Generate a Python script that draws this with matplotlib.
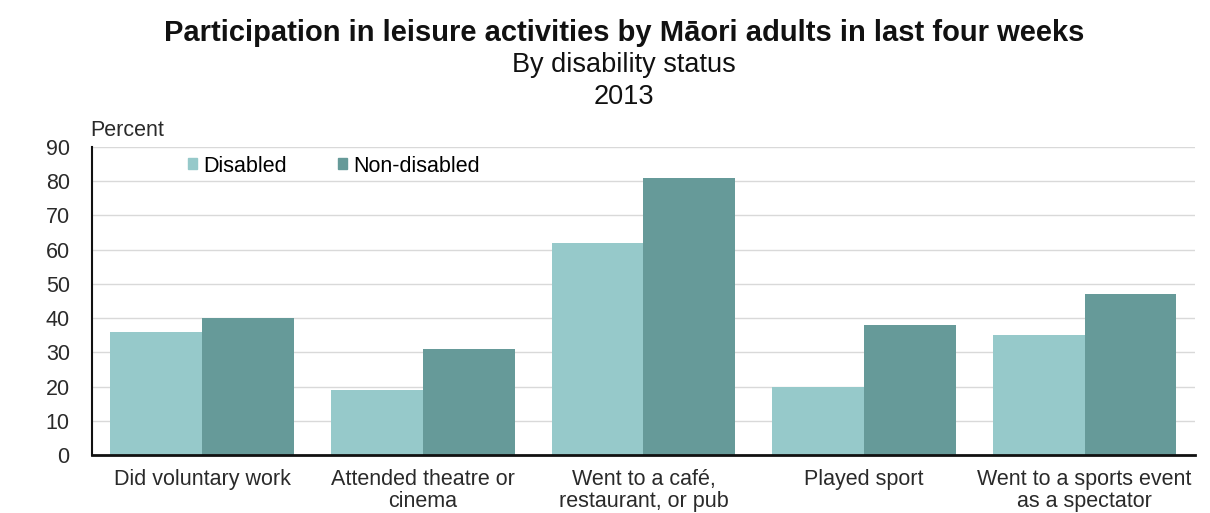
import numpy as np
import matplotlib
matplotlib.use("Agg")
import matplotlib.pyplot as plt
from matplotlib.patches import Patch

plt.rcParams['font.family'] = ['Liberation Sans', 'DejaVu Sans']

# data
categories = ["Did voluntary work", "Attended theatre or\ncinema",
              "Went to a café,\nrestaurant, or pub", "Played sport",
              "Went to a sports event\nas a spectator"]
disabled = [36, 19, 62, 20, 35]
non_disabled = [40, 31, 81, 38, 47]
yticks = list(range(0, 100, 10))

light = "#96c9ca"
dark = "#669a99"
W, H = 1210, 513

fig = plt.figure(figsize=(12.1, 5.13), dpi=100)
ax = fig.add_axes([0.076, 0.113, 0.9115, 0.6005])

x = np.arange(len(categories))
w = 0.416
ax.bar(x - w / 2, disabled, w, color=light, label="Disabled", zorder=3)
ax.bar(x + w / 2, non_disabled, w, color=dark, label="Non-disabled", zorder=3)

ax.set_xlim(-0.5, len(categories) - 0.5)
ax.set_ylim(0, 90)
ax.set_yticks(yticks)
ax.set_xticks(x)
ax.set_xticklabels(categories, fontsize=15.5, color="#2a2a2a", linespacing=1.05)
ax.tick_params(axis="y", labelsize=15.5, length=0, pad=16, labelcolor="#2a2a2a")
ax.tick_params(axis="x", length=0, pad=10)
ax.grid(axis="y", color="#d9d9d9", linewidth=1, zorder=0)

for s in ["top", "right"]:
    ax.spines[s].set_visible(False)
ax.spines["left"].set_color("#111111")
ax.spines["left"].set_linewidth(1.5)
ax.spines["bottom"].set_color("#111111")
ax.spines["bottom"].set_linewidth(2)
ax.spines["bottom"].set_zorder(4)

handles = [Patch(color=light, label="Disabled"), Patch(color=dark, label="Non-disabled")]
fig.legend(handles=handles, loc="center left", bbox_to_anchor=(188 / W, 1 - 166 / H),
           ncol=2, frameon=False, fontsize=15.5, handlelength=0.4, handleheight=0.4,
           handletextpad=0.3, columnspacing=2.4, borderpad=0, borderaxespad=0)

fig.text(90 / W, 1 - 130 / H, "Percent", fontsize=15.5, color="#2a2a2a", va="center")
fig.text(0.516, 1 - 33 / H, "Participation in leisure activities by Māori adults in last four weeks",
         ha="center", va="center", fontsize=21, fontweight="bold", color="#111111")
fig.text(0.516, 1 - 65 / H, "By disability status", ha="center", va="center",
         fontsize=19.5, color="#111111")
fig.text(0.516, 1 - 97 / H, "2013", ha="center", va="center", fontsize=19.5, color="#111111")

fig.savefig("out.png", dpi=100)
